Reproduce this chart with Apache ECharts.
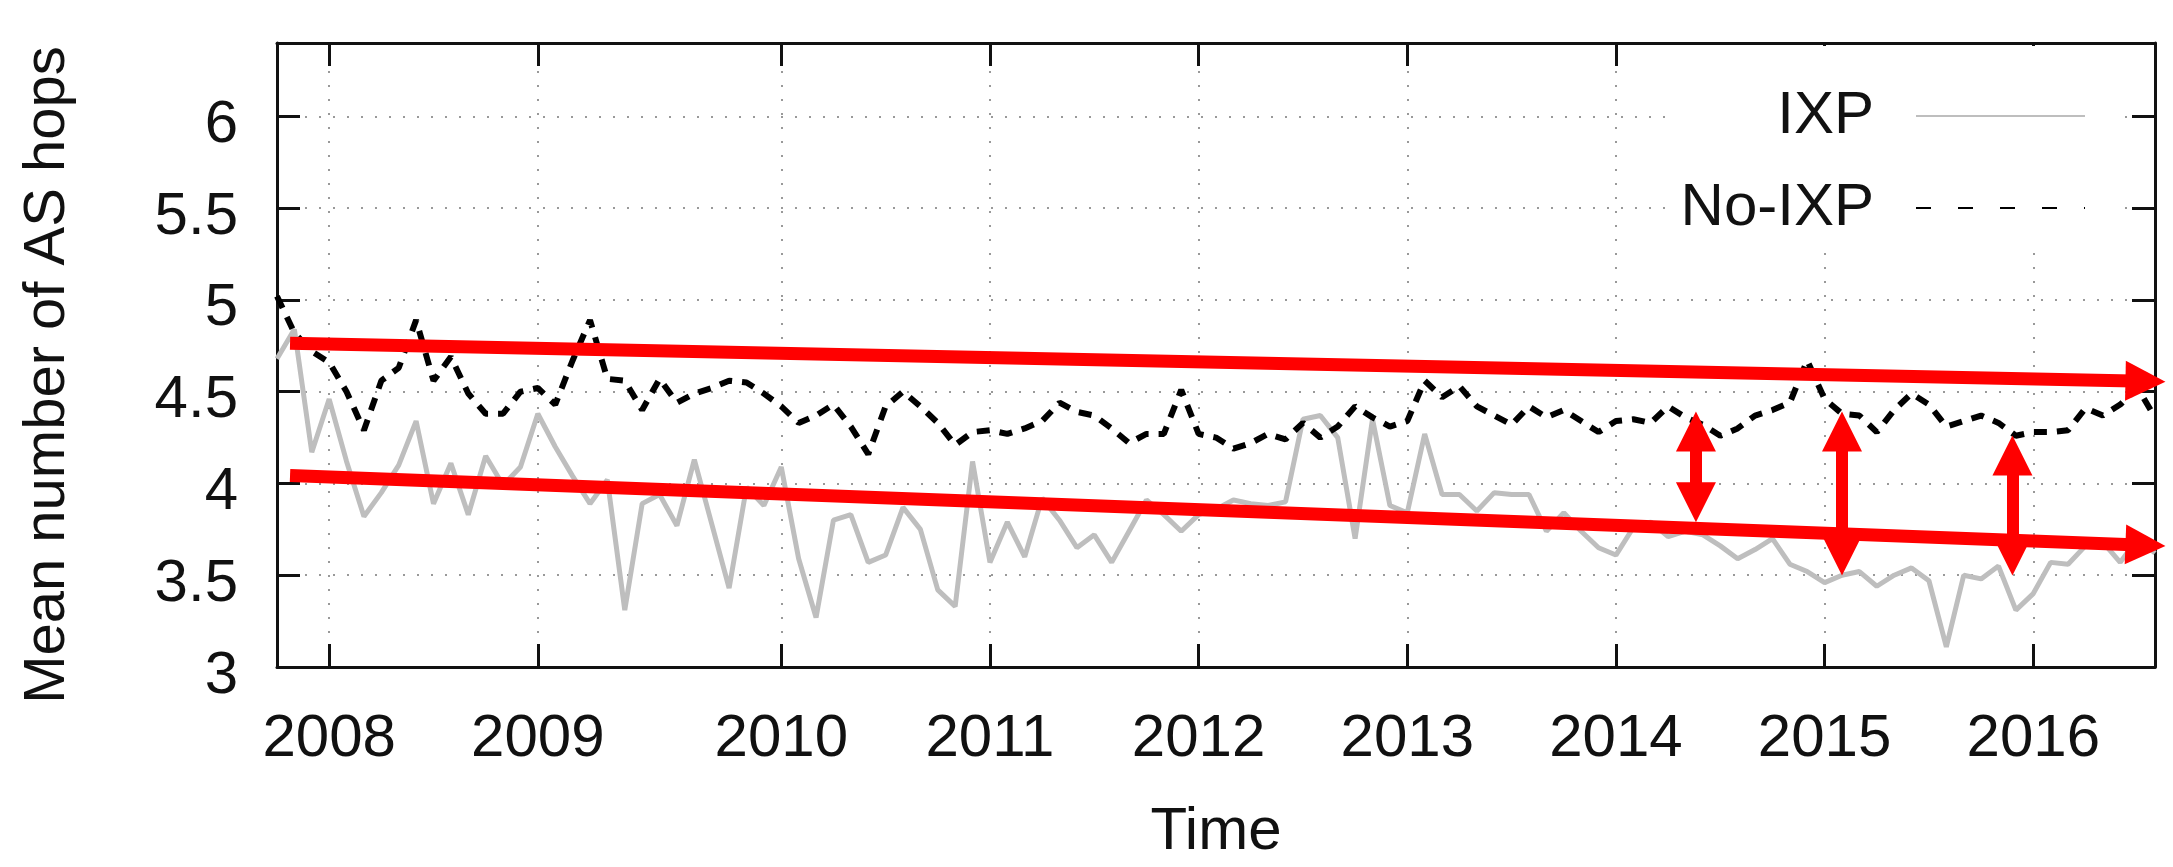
<!DOCTYPE html>
<html>
<head>
<meta charset="utf-8">
<script src="https://cdn.jsdelivr.net/npm/echarts/dist/echarts.min.js"></script>
<style>
  html, body { margin: 0; padding: 0; background: #ffffff; }
  #chart { width: 2173px; height: 867px; }
</style>
</head>
<body>
<div id="chart"></div>
<script>
// ---- data (one value per snapshot) ----
const yearIndex  = [3, 15, 29, 41, 53, 65, 77, 89, 101];
const yearLabels = ['2008', '2009', '2010', '2011', '2012', '2013', '2014', '2015', '2016'];

const ixp = [
  4.68, 4.84, 4.17, 4.46, 4.12, 3.82, 3.95, 4.10, 4.34, 3.89,
  4.11, 3.83, 4.15, 3.99, 4.09, 4.38, 4.20, 4.04, 3.89, 4.02,
  3.31, 3.89, 3.94, 3.77, 4.13, 3.78, 3.43, 3.98, 3.88, 4.09,
  3.59, 3.27, 3.80, 3.83, 3.57, 3.61, 3.87, 3.75, 3.42, 3.33,
  4.12, 3.57, 3.79, 3.60, 3.92, 3.80, 3.65, 3.72, 3.57, 3.74,
  3.91, 3.83, 3.74, 3.83, 3.86, 3.91, 3.89, 3.88, 3.90, 4.35,
  4.37, 4.25, 3.70, 4.35, 3.88, 3.84, 4.27, 3.94, 3.94, 3.85,
  3.95, 3.94, 3.94, 3.74, 3.84, 3.74, 3.65, 3.61, 3.76, 3.79,
  3.71, 3.74, 3.72, 3.66, 3.59, 3.64, 3.70, 3.56, 3.52, 3.46,
  3.50, 3.52, 3.44, 3.50, 3.54, 3.47, 3.11, 3.50, 3.48, 3.55,
  3.31, 3.40, 3.57, 3.56, 3.66, 3.68, 3.57, 3.70, 3.62
];

const noIxp = [
  5.02, 4.82, 4.72, 4.66, 4.50, 4.29, 4.56, 4.63, 4.89, 4.56,
  4.69, 4.49, 4.38, 4.38, 4.50, 4.52, 4.43, 4.67, 4.89, 4.57,
  4.56, 4.40, 4.57, 4.44, 4.49, 4.52, 4.56, 4.55, 4.49, 4.42,
  4.33, 4.37, 4.43, 4.31, 4.16, 4.42, 4.50, 4.42, 4.33, 4.21,
  4.28, 4.29, 4.27, 4.30, 4.34, 4.44, 4.39, 4.37, 4.30, 4.22,
  4.27, 4.27, 4.51, 4.27, 4.25, 4.19, 4.22, 4.27, 4.24, 4.33,
  4.25, 4.31, 4.42, 4.36, 4.31, 4.34, 4.56, 4.47, 4.53, 4.42,
  4.37, 4.32, 4.42, 4.36, 4.40, 4.34, 4.28, 4.34, 4.35, 4.33,
  4.42, 4.36, 4.32, 4.26, 4.30, 4.37, 4.40, 4.44, 4.67, 4.46,
  4.38, 4.37, 4.28, 4.40, 4.49, 4.43, 4.31, 4.34, 4.37, 4.33,
  4.26, 4.28, 4.28, 4.29, 4.41, 4.37, 4.43, 4.52, 4.36
];

// red annotations, in data space: [snapshot index, hops]
const trendLines = [
  [[0.75, 4.764], [107.45, 4.557]],
  [[0.75, 4.043], [107.45, 3.664]]
];
const gapArrows = [
  [[81.6, 4.283], [81.6, 3.897]],
  [[90.0, 4.283], [90.0, 3.607]],
  [[99.8, 4.153], [99.8, 3.607]]
];

const categories = ixp.map((_, i) => String(i));

// ---- chart ----
const FONT = "'Liberation Sans', Arial, Helvetica, sans-serif";
const INK = '#111111';
const axisLineStyle = { color: INK, width: 3 };
const gridStyle = { color: '#999999', width: 2, type: [2, 12] };
const isYear = (i) => yearIndex.indexOf(i) >= 0;

const chart = echarts.init(document.getElementById('chart'), null, { renderer: 'canvas' });

const option = {
  animation: false,
  backgroundColor: '#ffffff',
  textStyle: { fontFamily: FONT },
  grid: { left: 277, top: 43, width: 1878, height: 634, containLabel: false },
  legend: {
    orient: 'vertical',
    align: 'right',
    right: 56,
    top: 46,
    itemWidth: 169,
    itemHeight: 60,
    itemGap: 16,
    padding: [32, 31, 6, 11],
    backgroundColor: '#ffffff',
    selectedMode: false,
    itemStyle: { opacity: 0 },
    textStyle: { fontSize: 60, lineHeight: 60, color: INK, fontFamily: FONT, padding: [16, 37, 0, 0] },
    data: [
      { name: 'IXP' },
      { name: 'No-IXP', lineStyle: { type: [15, 27] } }
    ]
  },
  xAxis: [
    {
      type: 'category',
      data: categories,
      boundaryGap: false,
      position: 'bottom',
      name: 'Time',
      nameLocation: 'middle',
      nameGap: 135,
      nameMoveOverlap: false,
      nameTextStyle: { fontSize: 60, color: INK, fontFamily: FONT },
      axisLine: { show: true, lineStyle: axisLineStyle },
      axisTick: { show: true, inside: true, length: 23, interval: isYear, lineStyle: axisLineStyle },
      axisLabel: {
        show: true,
        interval: isYear,
        fontSize: 60,
        color: INK,
        fontFamily: FONT,
        margin: 42,
        hideOverlap: false,
        formatter: (v) => {
          const k = yearIndex.indexOf(Number(v));
          return k >= 0 ? yearLabels[k] : '';
        }
      },
      splitLine: { show: true, interval: isYear, lineStyle: gridStyle }
    },
    {
      type: 'category',
      data: categories,
      boundaryGap: false,
      position: 'top',
      axisLine: { show: true, lineStyle: axisLineStyle },
      axisTick: { show: true, inside: true, length: 23, interval: isYear, lineStyle: axisLineStyle },
      axisLabel: { show: false },
      splitLine: { show: false }
    },
    {
      type: 'value',
      min: 0,
      max: 108,
      show: false
    }
  ],
  yAxis: [
    {
      type: 'value',
      min: 3,
      max: 6.4,
      interval: 0.5,
      position: 'left',
      name: 'Mean number of AS hops',
      nameLocation: 'middle',
      nameRotate: 90,
      nameGap: 200,
      nameMoveOverlap: false,
      nameTextStyle: { fontSize: 58, color: INK, fontFamily: FONT, padding: [0, 40, 0, 0] },
      axisLine: { show: true, lineStyle: axisLineStyle },
      axisTick: { show: true, inside: true, length: 23, lineStyle: axisLineStyle },
      axisLabel: {
        show: true,
        fontSize: 60,
        lineHeight: 18,
        verticalAlign: 'top',
        color: INK,
        fontFamily: FONT,
        margin: 39,
        formatter: (v) => (v > 6.05 ? '' : String(v))
      },
      splitLine: { show: true, lineStyle: gridStyle }
    },
    {
      type: 'value',
      min: 3,
      max: 6.4,
      interval: 0.5,
      position: 'right',
      axisLine: { show: true, lineStyle: axisLineStyle },
      axisTick: { show: true, inside: true, length: 23, lineStyle: axisLineStyle },
      axisLabel: { show: false },
      splitLine: { show: false }
    }
  ],
  series: [
    {
      name: 'IXP',
      type: 'line',
      data: ixp,
      xAxisIndex: 0,
      yAxisIndex: 0,
      symbol: 'none',
      showSymbol: false,
      z: 2,
      lineStyle: { color: '#bebebe', width: 5 },
      itemStyle: { color: '#bebebe' }
    },
    {
      name: 'No-IXP',
      type: 'line',
      data: noIxp,
      xAxisIndex: 0,
      yAxisIndex: 0,
      symbol: 'none',
      showSymbol: false,
      z: 3,
      lineStyle: { color: '#000000', width: 6, type: [13, 10] },
      itemStyle: { color: '#000000' }
    },
    {
      type: 'lines',
      coordinateSystem: 'cartesian2d',
      xAxisIndex: 2,
      yAxisIndex: 0,
      polyline: false,
      clip: false,
      z: 10,
      silent: true,
      symbol: ['none', 'triangle'],
      symbolSize: 40,
      lineStyle: { color: '#ff0000', width: 13, opacity: 1, curveness: 0 },
      data: trendLines.map((c) => ({ coords: c }))
    },
    {
      type: 'lines',
      coordinateSystem: 'cartesian2d',
      xAxisIndex: 2,
      yAxisIndex: 0,
      polyline: false,
      clip: false,
      z: 10,
      silent: true,
      symbol: ['triangle', 'triangle'],
      symbolSize: 40,
      lineStyle: { color: '#ff0000', width: 12, opacity: 1, curveness: 0 },
      data: gapArrows.map((c) => ({ coords: c }))
    }
  ]
};

chart.setOption(option);
</script>
</body>
</html>
